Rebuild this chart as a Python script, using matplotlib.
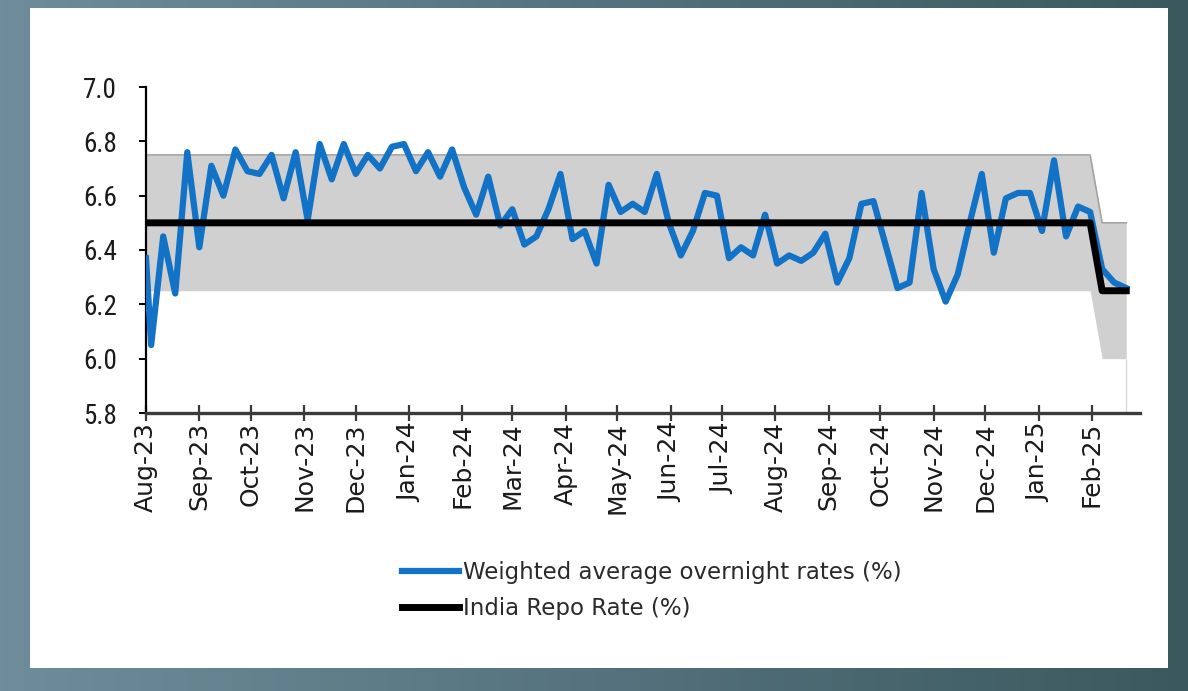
import numpy as np
import pandas as pd
import matplotlib
matplotlib.use("Agg")
import matplotlib.pyplot as plt
import matplotlib.dates as mdates
from matplotlib.colors import LinearSegmentedColormap
from matplotlib.patches import Rectangle
from matplotlib import font_manager

# Weekly observations (first print on 1 Aug, then every Friday)
dates = [pd.Timestamp("2023-08-01")] + list(pd.date_range("2023-08-04", "2025-02-21", freq="7D"))

# Weighted average overnight rates (%)
overnight = [
    6.37, 6.05, 6.45, 6.24, 6.76, 6.41, 6.71, 6.60, 6.77, 6.69,
    6.68, 6.75, 6.59, 6.76, 6.51, 6.79, 6.66, 6.79, 6.68, 6.75,
    6.70, 6.78, 6.79, 6.69, 6.76, 6.67, 6.77, 6.63, 6.53, 6.67,
    6.49, 6.55, 6.42, 6.45, 6.55, 6.68, 6.44, 6.47, 6.35, 6.64,
    6.54, 6.57, 6.54, 6.68, 6.50, 6.38, 6.47, 6.61, 6.60, 6.37,
    6.41, 6.38, 6.53, 6.35, 6.38, 6.36, 6.39, 6.46, 6.28, 6.37,
    6.57, 6.58, 6.42, 6.26, 6.28, 6.61, 6.33, 6.21, 6.31, 6.50,
    6.68, 6.39, 6.59, 6.61, 6.61, 6.47, 6.73, 6.45, 6.56, 6.54,
    6.33, 6.28, 6.26,
]

# India repo rate (%), cut to 6.25 in Feb-25
repo = [6.5] * 80 + [6.25] * 3

# policy corridor: SDF below, MSF above the repo rate
corridor_width = 0.25
sdf = [r - corridor_width for r in repo]
msf = [r + corridor_width for r in repo]

y_ticks = [5.8, 6.0, 6.2, 6.4, 6.6, 6.8, 7.0]
month_ticks = pd.date_range("2023-08-01", "2025-02-01", freq="MS")

names = {f.name for f in font_manager.fontManager.ttflist}
narrow = next((n for n in ["Liberation Sans Narrow", "Roboto Condensed", "DejaVu Sans"] if n in names), "DejaVu Sans")

W, H = 1188, 691
fig = plt.figure(figsize=(W / 100, H / 100), dpi=100)

# slate frame with white card
bg = fig.add_axes([0, 0, 1, 1], zorder=0)
frame_cmap = LinearSegmentedColormap.from_list("frame", ["#6f8c9b", "#55727e", "#3b595d"])
bg.imshow(np.linspace(0, 1, 256).reshape(1, -1), cmap=frame_cmap, aspect="auto", extent=[0, 1, 0, 1])
bg.add_patch(Rectangle((30 / W, 1 - 668 / H), (1168 - 30) / W, (668 - 8) / H,
                       transform=bg.transAxes, facecolor="white", edgecolor="none"))
bg.set_xlim(0, 1)
bg.set_ylim(0, 1)
bg.axis("off")

ax = fig.add_axes([146 / W, 1 - 413 / H, (1140 - 146) / W, (413 - 87) / H], zorder=1)
ax.set_facecolor("white")

ax.fill_between(dates, sdf, msf, color="#d0d0d0", linewidth=0, zorder=1)
ax.plot(dates, msf, color="#a3a3a3", linewidth=1.2, zorder=2)
ax.vlines(dates[-1], 5.8, sdf[-1], color="#d6d6d6", linewidth=1, zorder=2)
ax.plot(dates, overnight, color="#1272c6", linewidth=4.5, solid_joinstyle="round",
        label="Weighted average overnight rates (%)", zorder=3)
ax.plot(dates, repo, color="black", linewidth=5, label="India Repo Rate (%)", zorder=4)

ax.set_xlim(pd.Timestamp("2023-08-01"), pd.Timestamp("2025-03-01"))
ax.set_ylim(5.8, 7.0)
ax.set_yticks(y_ticks)
ax.set_yticklabels([f"{v:.1f}" for v in y_ticks], fontsize=19.5, family=narrow, color="#1a1a1a")

ax.set_xticks(month_ticks)
ax.xaxis.set_major_formatter(mdates.DateFormatter("%b-%y"))
plt.setp(ax.get_xticklabels(), rotation=90, fontsize=18, color="#1a1a1a", family="DejaVu Sans")

for side in ["top", "right"]:
    ax.spines[side].set_visible(False)
ax.spines["left"].set_linewidth(1.6)
ax.spines["bottom"].set_linewidth(2.4)
ax.spines["bottom"].set_color("#3a3a3a")
ax.tick_params(axis="y", direction="out", length=5, width=1.4, pad=16)
ax.tick_params(axis="x", direction="inout", length=11, width=1.6, color="#3a3a3a", pad=1)

leg = ax.legend(loc="upper left", bbox_to_anchor=(391 / W, 1 - 550 / H),
                bbox_transform=fig.transFigure, frameon=False, fontsize=16.5,
                handlelength=2.45, handletextpad=0.2, labelspacing=0.55, borderpad=0)
for t in leg.get_texts():
    t.set_color("#2a2a2a")

fig.savefig("out.png", dpi=100)
